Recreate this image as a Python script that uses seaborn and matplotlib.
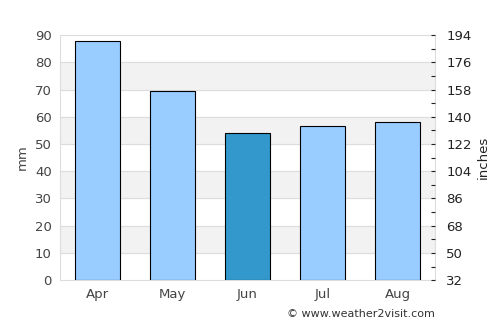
import numpy as np
import pandas as pd
import matplotlib
matplotlib.use("Agg")
import matplotlib.pyplot as plt
import seaborn as sns

# Dati
months = ["Apr", "May", "Jun", "Jul", "Aug"]
rain_mm = [87.8, 69.4, 54.0, 56.6, 58.0]
highlight = "Jun"
right_ticks = [32, 50, 68, 86, 104, 122, 140, 158, 176, 194]

df = pd.DataFrame({"month": months, "mm": rain_mm})
colors = ["#3399cc" if m == highlight else "#99ccff" for m in months]

sns.set_style("white")
plt.rcParams["font.family"] = ["DejaVu Sans"]

fig = plt.figure(figsize=(5, 3.25), dpi=100)
ax = fig.add_axes([0.12, 0.138, 0.75, 0.754])

sns.barplot(data=df, x="month", y="mm", hue="month", palette=colors,
            legend=False, width=0.6, edgecolor="black", linewidth=0.8,
            saturation=1, ax=ax, zorder=3)

# bande grigie alternate
for lo in range(10, 90, 20):
    ax.axhspan(lo, lo + 10, color="#f2f2f2", zorder=0)
for y in range(10, 90, 10):
    ax.axhline(y, color="#dddddd", lw=0.8, zorder=1)

ax.set_ylim(0, 90)
ax.set_xlim(-0.5, 4.5)
ax.set_yticks(range(0, 91, 10))
ax.set_xlabel("")
ax.set_ylabel("mm", fontsize=9.5, color="#444444")
ax.tick_params(axis="both", length=0, labelsize=9.5, labelcolor="#444444", pad=6)
for s in ax.spines.values():
    s.set_color("#dddddd")
    s.set_linewidth(0.8)

ax2 = ax.twinx()
ax2.set_ylim(32, 194)
ax2.set_yticks(right_ticks)
ax2.set_yticks([t + 9 for t in right_ticks[:-1]], minor=True)
ax2.set_ylabel("inches", fontsize=9.5, color="#222222")
ax2.tick_params(axis="y", which="both", direction="in", length=3, width=0.8,
                color="#222222", labelsize=9.5, labelcolor="#222222", pad=8)
for s in ax2.spines.values():
    s.set_visible(False)

fig.text(0.87, 0.035, "© www.weather2visit.com", ha="right", va="center",
         fontsize=8, color="#333333")

fig.savefig("out.png", dpi=100)
